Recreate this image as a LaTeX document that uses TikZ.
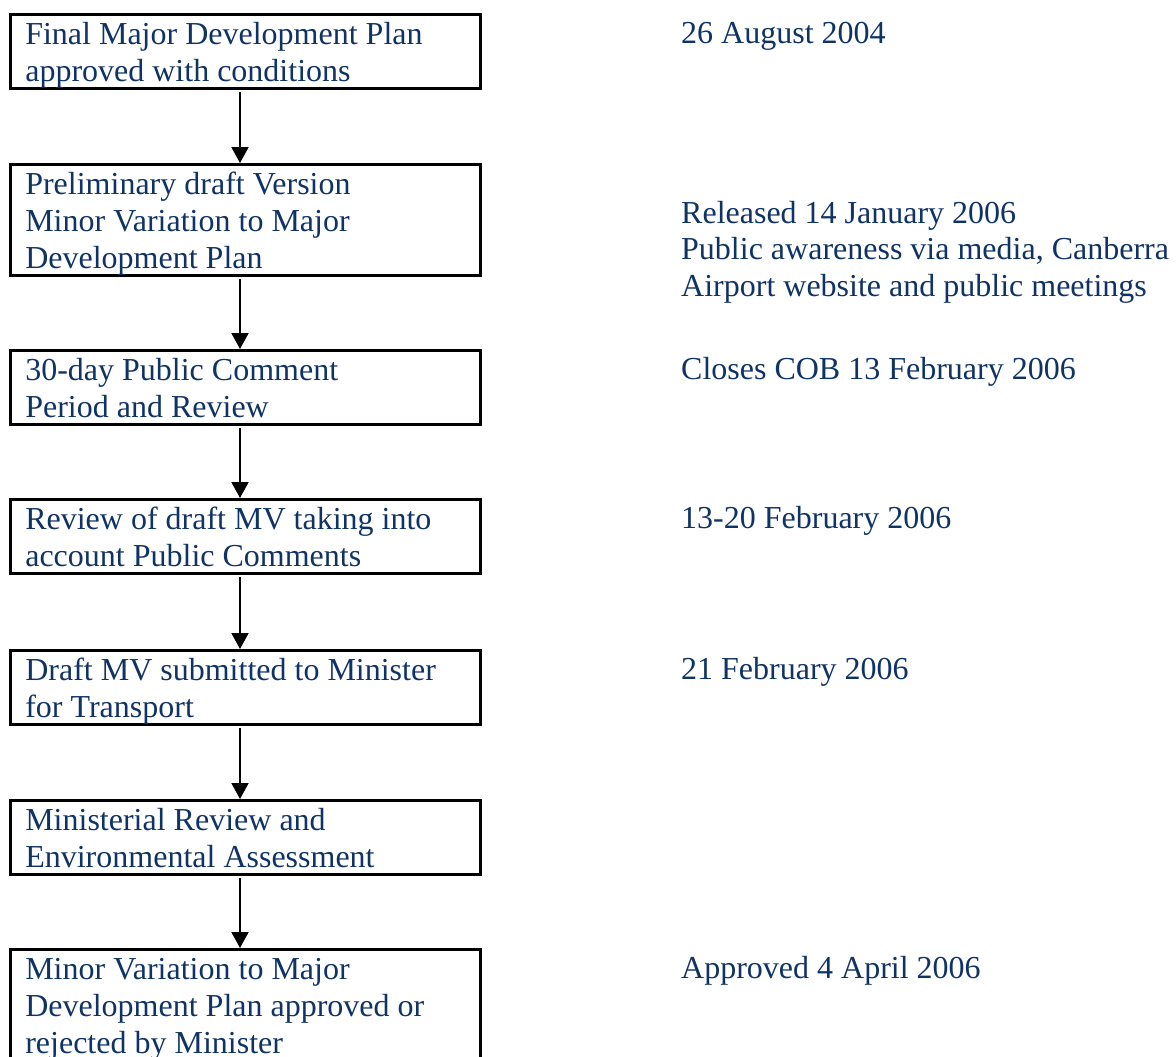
\documentclass[tikz,border=0pt]{standalone}
\usepackage{fontspec}
\setmainfont{Liberation Serif}
\usetikzlibrary{arrows.meta}
\definecolor{navy}{RGB}{16,51,102}
\newcommand{\topstrut}{\rule{0pt}{30pt}}
\newcommand{\botstrut}{\rule[-7pt]{0pt}{7pt}}
\begin{document}
\begin{tikzpicture}[x=1pt,y=-1pt,
  every node/.style={text=navy},
  stepbox/.style={draw=black, line width=2.6pt, rectangle, anchor=north west,
    font=\fontsize{32}{37}\selectfont,
    minimum width=469pt, text width=440pt, align=flush left, inner xsep=15pt, inner ysep=0pt},
  datelabel/.style={anchor=north west, align=left, inner sep=0pt,
    font=\fontsize{32}{36.5}\selectfont},
  arr/.style={line width=2pt, draw=black, -{Triangle[length=16pt,width=17pt]}, shorten <=2pt}
]
\useasboundingbox (0,0) rectangle (1176,1057);
\coordinate (ax) at (240,0);
\coordinate (rx) at (681,0);

\node[stepbox] (b1) at (9,13) {\topstrut Final Major Development Plan\\approved with conditions\botstrut};
\node[stepbox] (b2) at (9,163) {\topstrut Preliminary draft Version\\Minor Variation to Major\\Development Plan\botstrut};
\node[stepbox] (b3) at (9,349) {\topstrut 30-day Public Comment\\Period and Review\botstrut};
\node[stepbox] (b4) at (9,498) {\topstrut Review of draft MV taking into\\account Public Comments\botstrut};
\node[stepbox] (b5) at (9,649) {\topstrut Draft MV submitted to Minister\\for Transport\botstrut};
\node[stepbox] (b6) at (9,799) {\topstrut Ministerial Review and\\Environmental Assessment\botstrut};
\node[stepbox] (b7) at (9,948) {\topstrut Minor Variation to Major\\Development Plan approved or\\rejected by Minister\botstrut};

\node[datelabel] (d1) at (b1.north west -| rx) {\topstrut 26 August 2004};
\node[datelabel, yshift=-30pt] (d2) at (b2.north west -| rx) {\topstrut Released 14 January 2006\\Public awareness via media, Canberra\\Airport website and public meetings};
\node[datelabel] (d3) at (b3.north west -| rx) {\topstrut Closes COB 13 February 2006};
\node[datelabel] (d4) at (b4.north west -| rx) {\topstrut 13-20 February 2006};
\node[datelabel] (d5) at (b5.north west -| rx) {\topstrut 21 February 2006};
\node[datelabel] (d7) at (b7.north west -| rx) {\topstrut Approved 4 April 2006};

\draw[arr] (b1.south -| ax) -- (b2.north -| ax);
\draw[arr] (b2.south -| ax) -- (b3.north -| ax);
\draw[arr] (b3.south -| ax) -- (b4.north -| ax);
\draw[arr] (b4.south -| ax) -- (b5.north -| ax);
\draw[arr] (b5.south -| ax) -- (b6.north -| ax);
\draw[arr] (b6.south -| ax) -- (b7.north -| ax);
\end{tikzpicture}
\end{document}
